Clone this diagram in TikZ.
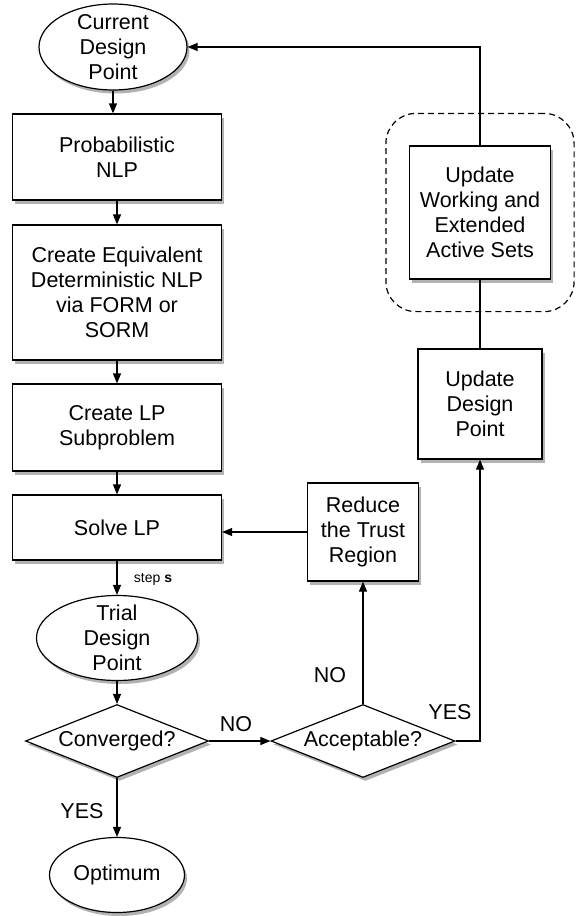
\documentclass[tikz,border=0pt]{standalone}
\usepackage{fontspec}
\setmainfont{Liberation Sans}
\usetikzlibrary{shapes.geometric,arrows.meta,shadows,fit}
\tikzset{>={Triangle[length=10pt,width=8pt]}}
\tikzset{
  shade/.style={drop shadow={shadow xshift=2.5pt,shadow yshift=-3.5pt,opacity=.3,fill=black}},
  pbox/.style={draw,fill=white,shade,rectangle,align=center,inner sep=0pt},
  oval/.style={draw,fill=white,shade,ellipse,inner sep=0pt},
  test/.style={draw,fill=white,shade,diamond,inner sep=0pt},
  inlbl/.style={align=center,inner sep=0pt,label distance=0pt},
  grp/.style={draw,dashed,dash pattern=on 6pt off 4pt,rounded corners=30pt,inner xsep=23pt,inner ysep=32pt},
}

\begin{document}
\begin{tikzpicture}[x=1pt,y=-1pt,line width=1.2pt,font=\fontsize{21.5}{25}\selectfont]
    \useasboundingbox (0,0) rectangle (576,916);
    % left column
    \node[oval,minimum width=148pt,minimum height=86pt,label={[inlbl]center:{Current\\Design\\Point}}] (cur) at (113,47) {};
    \node[pbox,minimum width=209pt,minimum height=86pt] (prob) at (117,157) {Probabilistic\\NLP};
    \node[pbox,minimum width=209pt,minimum height=135pt] (equiv) at (117,292.5) {Create Equivalent\\Deterministic NLP\\via FORM or\\SORM};
    \node[pbox,minimum width=209pt,minimum height=87pt] (lp) at (117,427.5) {Create LP\\Subproblem};
    \node[pbox,minimum width=209pt,minimum height=65pt] (solve) at (117,527.5) {Solve LP};
    \node[oval,minimum width=161pt,minimum height=85pt,label={[inlbl]center:{Trial\\Design\\Point}}] (trial) at (117,638) {};
    \node[test,minimum width=183pt,minimum height=73pt,label={[inlbl]center:{Converged?}}] (conv) at (117,741) {};
    \node[oval,minimum width=135pt,minimum height=75pt,label={[inlbl]center:{Optimum}}] (opt) at (117,875) {};
    % right part
    \node[test,minimum width=184pt,minimum height=73pt,label={[inlbl]center:{Acceptable?}}] (acc) at (363,741) {};
    \node[pbox,minimum width=111pt,minimum height=98pt] (reduce) at (363,532) {Reduce\\the Trust\\Region};
    \node[pbox,minimum width=124pt,minimum height=110pt] (upd) at (480,404) {Update\\Design\\Point};
    \node[pbox,minimum width=141pt,minimum height=133pt] (work) at (480,212.5) {Update\\Working and\\Extended\\Active Sets};
    \node[grp,fit=(work)] (grp) {};
    % connectors
    \draw[->] (cur.south) -- (cur.south |- prob.north);
    \draw[->] (prob.south) -- (equiv.north);
    \draw[->] (equiv.south) -- (lp.north);
    \draw[->] (lp.south) -- (solve.north);
    \draw[->] (solve.south) -- (trial.north);
    \draw[->] (trial.south) -- (conv.north);
    \draw[->] (conv.south) -- (opt.north);
    \draw[->] (conv.east) -- (acc.west);
    \draw[->] (acc.north) -- (reduce.south);
    \draw[->] (reduce.west) -- (reduce.west -| solve.east);
    \draw[->] (acc.east) -| (upd.south);
    \draw (upd.north) -- (work.south);
    \draw[->] (work.north) |- (cur.east);
    % labels
    \node[font=\fontsize{14}{16}\selectfont] (stp) at (153,579) {step \textbf{s}};
    \node (yes1) at (82,811) {YES};
    \node (no1) at (236,724) {NO};
    \node (no2) at (330,675) {NO};
    \node (yes2) at (450,712) {YES};
\end{tikzpicture}
\end{document}
